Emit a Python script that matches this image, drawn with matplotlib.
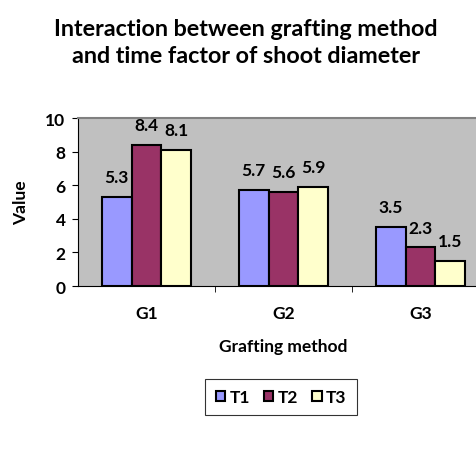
import numpy as np
import matplotlib.pyplot as plt
from matplotlib.patches import Patch

plt.rcParams['font.family'] = ['Lato', 'DejaVu Sans']
plt.rcParams['font.weight'] = 'bold'

groups = ['G1', 'G2', 'G3']
series = ['T1', 'T2', 'T3']
t1 = [5.3, 5.7, 3.5]
t2 = [8.4, 5.6, 2.3]
t3 = [8.1, 5.9, 1.5]
colors = ['#9999FF', '#993366', '#FFFFCC']

fig = plt.figure(figsize=(4.76, 4.52), dpi=100)
ax = fig.add_axes([78/476, 1 - 287/452, 411/476, 168/452])
ax.set_facecolor('#C0C0C0')

x = np.arange(len(groups))
w = 0.217
for i, (vals, c) in enumerate(zip([t1, t2, t3], colors)):
    pos = x + (i - 1) * w
    ax.bar(pos, vals, w, color=c, edgecolor='black', linewidth=1.5, zorder=3)
    for p, v in zip(pos, vals):
        ax.text(p, v + 0.7, f'{v}', ha='center', va='bottom', fontsize=12.5, fontweight='bold')

ax.set_xlim(-0.5, 2.5)
ax.set_ylim(0, 10)
ax.set_yticks([0, 2, 4, 6, 8, 10])
ax.set_xticks(x)
ax.set_xticklabels(groups)
ax.set_xticks([0.5, 1.5], minor=True)
ax.tick_params(axis='x', which='major', length=0, pad=14, labelsize=12.5)
ax.tick_params(axis='x', which='minor', length=4, direction='out')
ax.tick_params(axis='y', length=4, direction='out', labelsize=12.5, pad=5)
for lbl in ax.get_xticklabels() + ax.get_yticklabels():
    lbl.set_fontweight('bold')

ax.spines['top'].set_color('#808080')
ax.spines['top'].set_linewidth(1.5)
ax.spines['right'].set_visible(False)
ax.spines['left'].set_color('black')
ax.spines['bottom'].set_color('black')

ax.set_xlabel('Grafting method', fontsize=12.5, fontweight='bold', labelpad=12)
ax.set_ylabel('Value', fontsize=12.5, fontweight='bold', labelpad=12)

fig.text(246/476, 1 - 43/452, 'Interaction between grafting method\nand time factor of shoot diameter',
         ha='center', va='center', fontsize=16.8, fontweight='bold', linespacing=1.35)

handles = [Patch(facecolor=c, edgecolor='black', linewidth=1.5) for c in colors]
leg = fig.legend(handles, series, loc='center', bbox_to_anchor=(281/476, 1 - 398/452), ncol=3,
                 frameon=True, fancybox=False, edgecolor='black', fontsize=12.5,
                 handlelength=0.55, handleheight=0.55, handletextpad=0.25, columnspacing=0.8,
                 borderpad=0.6)
leg.get_frame().set_linewidth(0.8)
for t in leg.get_texts():
    t.set_fontweight('bold')

fig.savefig('out.png', dpi=100)
